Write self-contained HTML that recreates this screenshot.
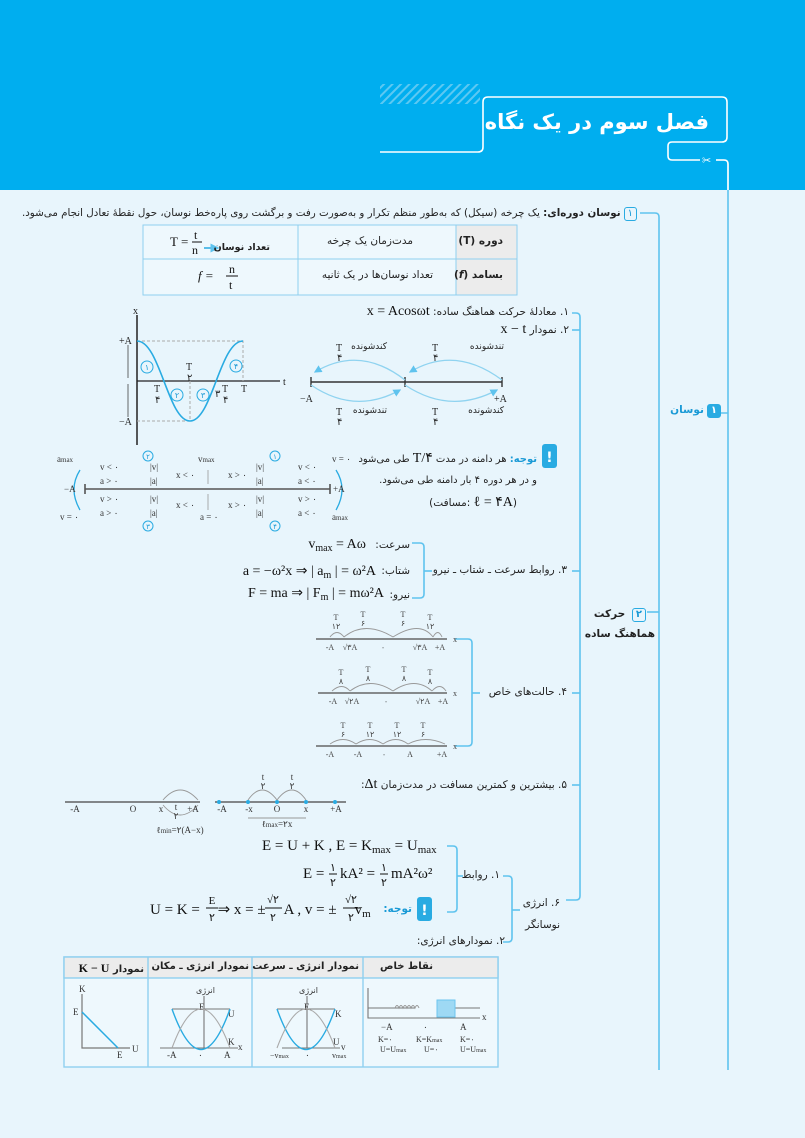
<!DOCTYPE html>
<html><head><meta charset="utf-8">
<style>
body{margin:0;width:805px;height:1138px;position:relative;overflow:hidden;background:#e8f5fc;font-family:"DejaVu Sans","Liberation Sans",sans-serif;}
.fa{position:absolute;direction:rtl;white-space:nowrap;font-size:10.5px;color:#222;font-family:"DejaVu Sans",sans-serif;}
.m{font-family:"Liberation Serif",serif;font-size:14px;color:#111;}
svg{position:absolute;left:0;top:0}
.b{font-weight:bold}
.n{display:inline-block;border:1.3px solid #29abe2;border-radius:3px;padding:0 3px;color:#1a9ad6;font-size:10px;line-height:12px;margin-left:3px;background:#fff0}
</style></head><body>
<div style="position:absolute;left:0;top:0;width:805px;height:190px;background:#00aeef"></div>
<svg width="805" height="1138" viewBox="0 0 805 1138">
<defs>
<pattern id="h" width="6" height="6" patternUnits="userSpaceOnUse" patternTransform="rotate(45)"><rect width="2" height="6" fill="#5cc8f2"/></pattern>
<marker id="ar" markerWidth="6" markerHeight="6" refX="5" refY="3" orient="auto"><path d="M0,0L6,3L0,6z" fill="#5fc3ee"/></marker>
</defs>
<rect x="380" y="84" width="100" height="20" fill="url(#h)"/>
<path d="M380,152 H478 Q483,152 483,147 V102 Q483,97 488,97 H722 Q727,97 727,102 V137 Q727,142 722,142 H672 Q668,142 668,146 V156 Q668,160 672,160 H700" fill="none" stroke="#fff" stroke-width="1.6"/>
<path d="M716,160 H724 Q728,160 728,164 V1070" fill="none" stroke="#5fc3ee" stroke-width="1.6"/>
<path d="M716,160 H724 Q728,160 728,164 V190" fill="none" stroke="#fff" stroke-width="1.6"/>
<text x="702" y="164" font-size="11" fill="#fff">✂</text>
<g stroke="#5fc3ee" stroke-width="1.6" fill="none">
<path d="M640,213 H655 Q659,213 659,217 V1070"/>
<path d="M710,413 H728"/>
<path d="M647,612 H659"/>
<path d="M572,313 H576 Q580,313 580,317 V896 Q580,900 576,900 H566"/>
<path d="M572,330 H580"/><path d="M572,571 H580"/><path d="M572,693 H580"/><path d="M572,785 H580"/>
<path d="M412,543 H420 Q424,543 424,547 V594 Q424,598 420,598 H412"/><path d="M424,571 H432"/>
<path d="M455,639 H468 Q472,639 472,643 V742 Q472,746 468,746 H455"/><path d="M472,693 H480"/>
<path d="M447,846 H453 Q457,846 457,850 V908 Q457,912 453,912 H447"/><path d="M457,876 H463"/>
<path d="M503,876 H508 Q512,876 512,880 V938 Q512,942 508,942 H503"/><path d="M512,910 H520"/>
</g>
<rect x="143" y="225" width="374" height="70" fill="#eef8fd" stroke="#8fd0ef"/>
<rect x="456" y="225" width="61" height="70" fill="#ececec" stroke="#8fd0ef"/>
<line x1="143" y1="259" x2="517" y2="259" stroke="#8fd0ef"/>
<line x1="298" y1="225" x2="298" y2="295" stroke="#8fd0ef"/>
<g font-family="Liberation Serif" font-size="13" fill="#111">
<text x="170" y="246">T =</text><text x="194" y="239" font-size="12">t</text><line x1="192" y1="242" x2="202" y2="242" stroke="#111"/><text x="192" y="254" font-size="12">n</text>
<text x="198" y="280" font-style="italic">f =</text><text x="229" y="273" font-size="12">n</text><line x1="226" y1="276" x2="238" y2="276" stroke="#111"/><text x="229" y="289" font-size="12">t</text>
</g>
<path d="M204,248 H218" stroke="#29abe2" stroke-width="1.5" marker-end="url(#ar)"/>
<g stroke="#222" fill="none">
<path d="M137,315 V445" stroke-width="1.5"/><path d="M137,381 H280" stroke-width="1.2"/>
</g>
<path d="M137,341 H243 V381 M137,421 H190 V381" stroke="#aaa" stroke-dasharray="3,2" fill="none"/>
<path d="M137,341 C160,341 168,421 190,421 C212,421 220,341 243,341" stroke="#29abe2" stroke-width="1.6" fill="none"/>
<path d="M128,345 V378 M128,384 V417" stroke="#444" stroke-width="0.8"/>
<g font-family="Liberation Serif" font-size="10" fill="#222">
<text x="133" y="314">x</text><text x="119" y="344">+A</text><text x="119" y="425">−A</text><text x="283" y="385">t</text>
<text x="186" y="370">T</text><text x="187" y="381">۲</text><text x="154" y="392">T</text><text x="155" y="403">۴</text><text x="222" y="392">T</text><text x="223" y="403">۴</text><text x="215" y="397">۳</text><text x="241" y="392">T</text>
</g>
<g fill="none" stroke="#29abe2"><circle cx="147" cy="367" r="6"/><circle cx="177" cy="395" r="6"/><circle cx="203" cy="395" r="6"/><circle cx="236" cy="366" r="6"/></g>
<g font-size="8" fill="#1a9ad6" text-anchor="middle"><text x="147" y="370">۱</text><text x="177" y="398">۲</text><text x="203" y="398">۳</text><text x="236" y="369">۴</text></g>
<path d="M311,382 H502 M311,377 V387 M405,377 V387 M502,377 V387" stroke="#333" stroke-width="1.4"/>
<g stroke="#8fd3f0" stroke-width="1.3" fill="none">
<path d="M405,380 Q360,345 315,372" marker-end="url(#ar)"/><path d="M502,380 Q455,345 410,372" marker-end="url(#ar)"/>
<path d="M311,385 Q355,415 400,390" marker-end="url(#ar)"/><path d="M405,385 Q450,415 497,390" marker-end="url(#ar)"/>
</g>
<g font-family="Liberation Serif" font-size="10" fill="#222"><text x="300" y="402">−A</text><text x="494" y="402">+A</text>
<text x="336" y="351">T</text><text x="337" y="361">۴</text><text x="432" y="351">T</text><text x="433" y="361">۴</text><text x="336" y="415">T</text><text x="337" y="425">۴</text><text x="432" y="415">T</text><text x="433" y="425">۴</text></g>
<path d="M85,489 H330 M85,484 V494 M330,484 V494" stroke="#555" stroke-width="1.6"/>
<path d="M208,470 V484 M208,494 V510" stroke="#999" stroke-width="0.8"/>
<path d="M80,470 Q68,489 80,510 M336,470 Q348,489 336,510" stroke="#29abe2" fill="none" stroke-width="1.3"/>
<g font-family="Liberation Serif" font-size="9" fill="#333">
<text x="57" y="462">a<tspan font-size="7">max</tspan></text><text x="60" y="520">v = ۰</text><text x="64" y="492">−A</text>
<text x="332" y="462">v = ۰</text><text x="332" y="520">a<tspan font-size="7">max</tspan></text><text x="333" y="492">+A</text>
<text x="100" y="470">v &lt; ۰</text><text x="100" y="484">a &gt; ۰</text><text x="100" y="502">v &gt; ۰</text><text x="100" y="516">a &gt; ۰</text>
<text x="150" y="470">|v|</text><text x="150" y="484">|a|</text><text x="150" y="502">|v|</text><text x="150" y="516">|a|</text>
<text x="176" y="478">x &lt; ۰</text><text x="176" y="508">x &lt; ۰</text><text x="228" y="478">x &gt; ۰</text><text x="228" y="508">x &gt; ۰</text>
<text x="256" y="470">|v|</text><text x="256" y="484">|a|</text><text x="256" y="502">|v|</text><text x="256" y="516">|a|</text>
<text x="298" y="470">v &lt; ۰</text><text x="298" y="484">a &lt; ۰</text><text x="298" y="502">v &gt; ۰</text><text x="298" y="516">a &lt; ۰</text>
<text x="198" y="462">v<tspan font-size="7">max</tspan></text><text x="200" y="520">a = ۰</text>
</g>
<g fill="none" stroke="#29abe2"><circle cx="148" cy="456" r="5"/><circle cx="275" cy="456" r="5"/><circle cx="148" cy="526" r="5"/><circle cx="275" cy="526" r="5"/></g>
<g font-size="7" fill="#1a9ad6" text-anchor="middle"><text x="148" y="459">۲</text><text x="275" y="459">۱</text><text x="148" y="529">۳</text><text x="275" y="529">۴</text></g>
<rect x="542" y="444" width="15" height="24" rx="3" fill="#29abe2"/><text x="549.5" y="462" font-size="14" fill="#fff" text-anchor="middle" font-weight="bold">!</text>
<rect x="417" y="897" width="15" height="24" rx="3" fill="#29abe2"/><text x="424.5" y="915" font-size="14" fill="#fff" text-anchor="middle" font-weight="bold">!</text>
<g font-family="Liberation Serif" font-size="14" fill="#111" text-anchor="end">
<text x="366" y="548">v<tspan font-size="10" dy="3">max</tspan><tspan dy="-3"> = Aω</tspan></text>
<text x="376" y="575">a = −ω²x ⇒ | a<tspan font-size="10" dy="3">m</tspan><tspan dy="-3"> | = ω²A</tspan></text>
<text x="384" y="597">F = ma ⇒ | F<tspan font-size="10" dy="3">m</tspan><tspan dy="-3"> | = mω²A</tspan></text>
</g>
<g stroke="#666" stroke-width="1.4"><path d="M316,639 H447 M318,693 H447 M316,746 H447"/></g>
<g stroke="#999" fill="none" stroke-width="0.9">
<path d="M330,637 Q337,628 344,637 M344,637 Q365,620 393,637 M393,637 Q420,620 433,637 M433,637 Q438,628 442,637"/>
<path d="M332,691 Q342,682 350,691 M350,691 Q370,676 393,691 M393,691 Q415,676 432,691 M432,691 Q440,682 446,691"/>
<path d="M330,744 Q343,735 356,744 M356,744 Q370,735 383,744 M383,744 Q396,735 408,744 M408,744 Q425,735 445,744"/>
</g>
<g font-family="Liberation Serif" font-size="8" fill="#444" text-anchor="middle">
<text x="336" y="620">T</text><text x="336" y="629">۱۲</text><text x="363" y="617">T</text><text x="363" y="626">۶</text><text x="403" y="617">T</text><text x="403" y="626">۶</text><text x="430" y="620">T</text><text x="430" y="629">۱۲</text>
<text x="341" y="675">T</text><text x="341" y="684">۸</text><text x="368" y="672">T</text><text x="368" y="681">۸</text><text x="404" y="672">T</text><text x="404" y="681">۸</text><text x="430" y="675">T</text><text x="430" y="684">۸</text>
<text x="343" y="728">T</text><text x="343" y="737">۶</text><text x="370" y="728">T</text><text x="370" y="737">۱۲</text><text x="397" y="728">T</text><text x="397" y="737">۱۲</text><text x="423" y="728">T</text><text x="423" y="737">۶</text>
<text x="330" y="650">-A</text><text x="350" y="650">√۳A</text><text x="383" y="650">۰</text><text x="420" y="650">√۳A</text><text x="440" y="650">+A</text>
<text x="333" y="704">-A</text><text x="352" y="704">√۲A</text><text x="386" y="704">۰</text><text x="423" y="704">√۲A</text><text x="443" y="704">+A</text>
<text x="330" y="757">-A</text><text x="358" y="757">-A</text><text x="384" y="757">۰</text><text x="410" y="757">A</text><text x="442" y="757">+A</text>
<text x="455" y="642">x</text><text x="455" y="696">x</text><text x="455" y="749">x</text>
</g>
<path d="M65,802 H200 M215,802 H346" stroke="#444" stroke-width="1.2"/>
<g fill="#29abe2"><circle cx="219" cy="802" r="2"/><circle cx="248" cy="802" r="2"/><circle cx="277" cy="802" r="2"/><circle cx="306" cy="802" r="2"/><circle cx="335" cy="802" r="2"/></g>
<g stroke="#999" fill="none" stroke-width="0.9"><path d="M163,800 Q180,780 198,800 M163,805 Q180,825 198,805 M248,800 Q262,780 277,800 M277,800 Q292,780 306,800 M248,818 H306"/></g>
<g font-family="Liberation Serif" font-size="9" fill="#333" text-anchor="middle">
<text x="75" y="812">-A</text><text x="133" y="812">O</text><text x="161" y="812">x</text><text x="193" y="812">+A</text><text x="176" y="810">t</text><text x="176" y="819">۲</text>
<text x="180" y="833">ℓ<tspan font-size="7">min</tspan>=۲(A−x)</text>
<text x="222" y="812">-A</text><text x="249" y="812">-x</text><text x="277" y="812">O</text><text x="306" y="812">x</text><text x="336" y="812">+A</text>
<text x="263" y="780">t</text><text x="263" y="789">۲</text><text x="292" y="780">t</text><text x="292" y="789">۲</text>
<text x="277" y="827">ℓ<tspan font-size="7">max</tspan>=۲x</text>
</g>
<g font-family="Liberation Serif" font-size="15" fill="#111">
<text x="262" y="850">E = U + K , E = K<tspan font-size="11" dy="3">max</tspan><tspan dy="-3"> = U</tspan><tspan font-size="11" dy="3">max</tspan></text>
<text x="303" y="878">E =</text><text x="340" y="878">kA² =</text><text x="391" y="878">mA²ω²</text>
<text x="150" y="914">U = K = <tspan dx="14">⇒ x = ±</tspan><tspan dx="18">A , v = ±</tspan><tspan dx="18">v</tspan><tspan font-size="11" dy="3">m</tspan></text>
</g>
<g font-family="Liberation Serif" font-size="11" fill="#111" text-anchor="middle">
<text x="333" y="871">۱</text><line x1="329" y1="874" x2="337" y2="874" stroke="#111"/><text x="333" y="886">۲</text>
<text x="384" y="871">۱</text><line x1="380" y1="874" x2="388" y2="874" stroke="#111"/><text x="384" y="886">۲</text>
<text x="212" y="904">E</text><line x1="206" y1="908" x2="218" y2="908" stroke="#111"/><text x="212" y="921">۲</text>
<text x="273" y="903">√۲</text><line x1="265" y1="908" x2="282" y2="908" stroke="#111"/><text x="273" y="921">۲</text>
<text x="351" y="903">√۲</text><line x1="343" y1="908" x2="360" y2="908" stroke="#111"/><text x="351" y="921">۲</text>
</g>
<rect x="64" y="957" width="434" height="110" fill="#eef8fd" stroke="#8fd0ef" stroke-width="1.4"/>
<rect x="64" y="957" width="434" height="21" fill="#ececec" stroke="#8fd0ef" stroke-width="1.4"/>
<path d="M148,957 V1067 M252,957 V1067 M363,957 V1067" stroke="#8fd0ef" stroke-width="1.4"/>
<path d="M82,994 V1048 H130" stroke="#777" fill="none" stroke-width="1.2"/><path d="M82,1012 L118,1048" stroke="#29abe2" stroke-width="1.5"/>
<g font-family="Liberation Serif" font-size="9" fill="#333"><text x="79" y="992">K</text><text x="73" y="1015">E</text><text x="117" y="1058">E</text><text x="132" y="1052">U</text>
<text x="196" y="993" font-size="8" font-family="DejaVu Sans">انرژی</text><text x="199" y="1010">E</text><text x="228" y="1017">U</text><text x="228" y="1045">K</text><text x="238" y="1050">x</text><text x="167" y="1058">-A</text><text x="198" y="1058">۰</text><text x="224" y="1058">A</text>
<text x="299" y="993" font-size="8" font-family="DejaVu Sans">انرژی</text><text x="304" y="1010">E</text><text x="335" y="1017">K</text><text x="333" y="1045">U</text><text x="341" y="1050">v</text><text x="270" y="1058" font-size="8">−v<tspan font-size="6">max</tspan></text><text x="305" y="1058">۰</text><text x="332" y="1058" font-size="8">v<tspan font-size="6">max</tspan></text>
<text x="381" y="1030">−A</text><text x="423" y="1030">۰</text><text x="460" y="1030">A</text><text x="482" y="1020">x</text>
<text x="378" y="1042" font-size="8">K=۰</text><text x="416" y="1042" font-size="8">K=K<tspan font-size="6">max</tspan></text><text x="460" y="1042" font-size="8">K=۰</text>
<text x="380" y="1052" font-size="8">U=U<tspan font-size="6">max</tspan></text><text x="424" y="1052" font-size="8">U=۰</text><text x="460" y="1052" font-size="8">U=U<tspan font-size="6">max</tspan></text>
</g>
<g stroke="#777" fill="none" stroke-width="1.1">
<path d="M160,1048 H238 M204,996 V1048 M172,1009 H230 M282,1048 H340 M307,996 V1048 M277,1009 H335 M368,988 V1018 H480 M368,1008 H415 M455,1008 H480"/>
</g>
<path d="M172,1009 Q201,1090 230,1009 M277,1009 Q306,1090 335,1009" stroke="#29abe2" fill="none" stroke-width="1.4"/>
<path d="M172,1048 Q201,970 230,1048 M277,1048 Q306,970 335,1048" stroke="#aaa" fill="none" stroke-width="1.1"/>
<path d="M395,1008 q2,-5 4,0 q2,-5 4,0 q2,-5 4,0 q2,-5 4,0 q2,-5 4,0 q2,-5 4,0" stroke="#999" fill="none"/>
<rect x="437" y="1000" width="18" height="17" fill="#9ed9f4" stroke="#6cc5ee"/>
</svg>
<div class="fa" style="right:96px;top:110px;font-size:21px;color:#fff;font-weight:bold">فصل سوم در یک نگاه</div>
<div class="fa" style="right:168px;top:207px;font-size:10.3px"><span class="n">۱</span><b>نوسان دوره‌ای:</b> یک چرخه (سیکل) که به‌طور منظم تکرار و به‌صورت رفت و برگشت روی پاره‌خط نوسان، حول نقطهٔ تعادل انجام می‌شود.</div>
<div class="fa b" style="right:302px;top:235px">دوره (T)</div>
<div class="fa" style="right:392px;top:235px">مدت‌زمان یک چرخه</div>
<div class="fa b" style="right:302px;top:269px">بسامد (<i>f</i>)</div>
<div class="fa" style="right:372px;top:269px">تعداد نوسان‌ها در یک ثانیه</div>
<div class="fa b" style="right:535px;top:242px;font-size:9.5px">تعداد نوسان</div>
<div class="fa" style="right:84px;top:404px;font-weight:bold;color:#1a9ad6"><span class="n" style="background:#29abe2;color:#fff">۱</span>نوسان</div>
<div class="fa b" style="right:150px;top:604px;line-height:20px;text-align:center"><span class="n">۲</span> حرکت<br>هماهنگ ساده</div>
<div class="fa" style="right:236px;top:304px">۱. معادلهٔ حرکت هماهنگ ساده: <span class="m" style="direction:ltr;unicode-bidi:embed">x = Acosωt</span></div>
<div class="fa" style="right:236px;top:322px">۲. نمودار <span class="m" style="direction:ltr;unicode-bidi:embed">x − t</span></div>
<div class="fa" style="font-size:9px;right:418px;top:342px">کندشونده</div>
<div class="fa" style="font-size:9px;right:301px;top:342px">تندشونده</div>
<div class="fa" style="font-size:9px;right:418px;top:406px">تندشونده</div>
<div class="fa" style="font-size:9px;right:301px;top:406px">کندشونده</div>
<div class="fa" style="right:268px;top:450px;font-size:10px"><b style="color:#1a9ad6">توجه:</b> هر دامنه در مدت <span class="m">T/۴</span> طی می‌شود</div>
<div class="fa" style="right:268px;top:475px;font-size:10px">و در هر دوره ۴ بار دامنه طی می‌شود.</div>
<div class="fa" style="right:288px;top:494px">(<span class="m">ℓ = ۴A</span> :مسافت)</div>
<div class="fa" style="right:395px;top:539px">سرعت:</div>
<div class="fa" style="right:395px;top:565px">شتاب:</div>
<div class="fa" style="right:395px;top:589px">نیرو:</div>
<div class="fa" style="right:238px;top:564px">۳. روابط سرعت ـ شتاب ـ نیرو</div>
<div class="fa" style="right:238px;top:686px">۴. حالت‌های خاص</div>
<div class="fa" style="right:238px;top:777px">۵. بیشترین و کمترین مسافت در مدت‌زمان <span class="m" style="direction:ltr;unicode-bidi:embed">Δt</span>:</div>
<div class="fa" style="right:305px;top:869px">۱. روابط</div>
<div class="fa" style="right:393px;top:903px;font-weight:bold;color:#1a9ad6">توجه:</div>
<div class="fa" style="right:245px;top:892px;line-height:22px;text-align:right">۶. انرژی<br>نوسانگر</div>
<div class="fa" style="right:300px;top:935px">۲. نمودارهای انرژی:</div>
<div class="fa b" style="right:372px;top:961px;font-size:10px">نقاط خاص</div>
<div class="fa b" style="right:446px;top:961px;font-size:10px">نمودار انرژی ـ سرعت</div>
<div class="fa b" style="right:556px;top:961px;font-size:10px">نمودار انرژی ـ مکان</div>
<div class="fa b" style="right:661px;top:961px;font-size:10px">نمودار <span class="m" style="font-size:12px;direction:ltr;unicode-bidi:embed">K − U</span></div>
</body></html>
